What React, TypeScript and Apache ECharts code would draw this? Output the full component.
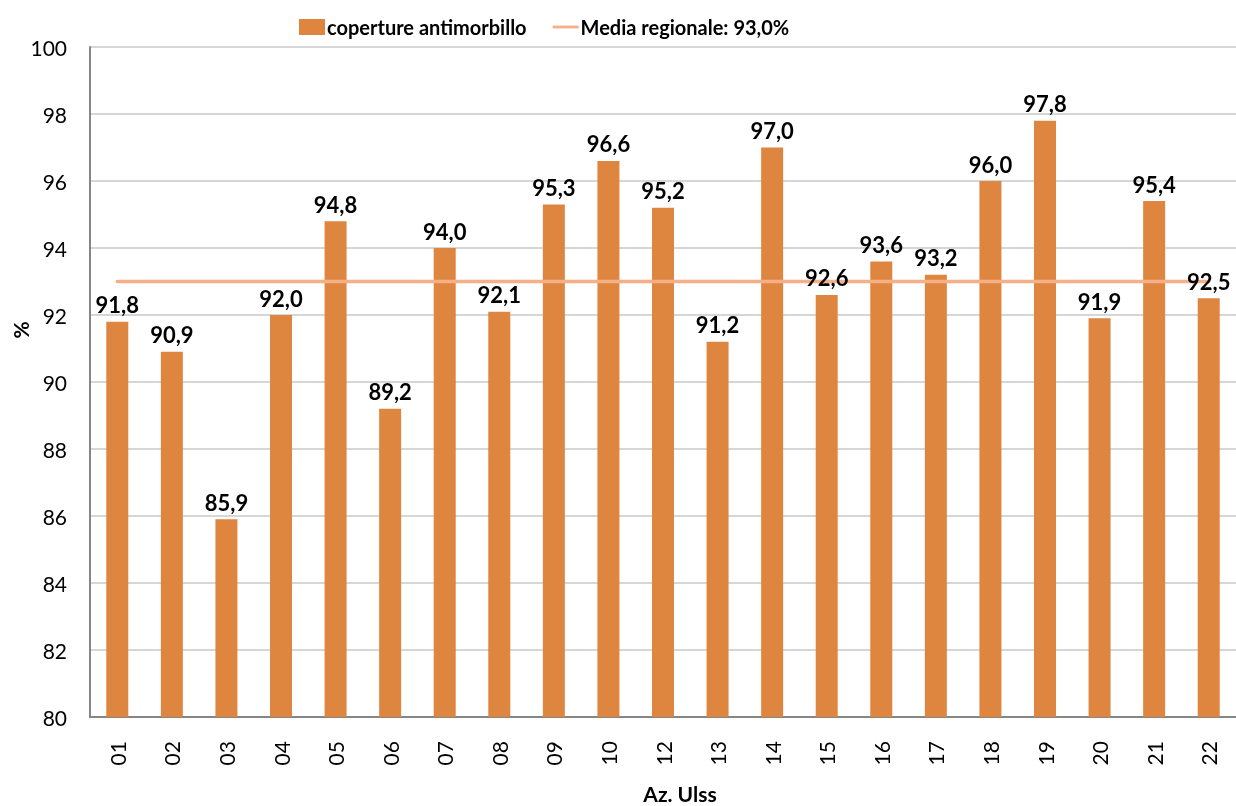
import React, { useEffect, useRef } from "react";
import * as echarts from "echarts";

const categories = ["01","02","03","04","05","06","07","08","09","10","12","13","14","15","16","17","18","19","20","21","22"];
const coverage = [91.8, 90.9, 85.9, 92.0, 94.8, 89.2, 94.0, 92.1, 95.3, 96.6, 95.2, 91.2, 97.0, 92.6, 93.6, 93.2, 96.0, 97.8, 91.9, 95.4, 92.5];
const regionalMean = 93.0;
const barName = "coperture antimorbillo";
const lineName = "Media regionale: 93,0%";
const yTicks = { min: 80, max: 100, interval: 2 };

const FONT = "Lato, 'Open Sans', sans-serif";

export default function App() {
  const ref = useRef<HTMLDivElement>(null);
  useEffect(() => {
    const chart = echarts.init(ref.current!, undefined, { renderer: "svg" });
    chart.setOption({
      animation: false,
      textStyle: { fontFamily: FONT },
      grid: { left: 90, right: 0, top: 47, bottom: 89 },
      legend: {
        top: 12,
        left: 294,
        itemGap: 26,
        itemWidth: 26,
        itemHeight: 16,
        textStyle: { fontFamily: FONT, fontWeight: "bold", fontSize: 20, color: "#000", padding: [0, 0, 0, -3] },
        data: [
          { name: barName, icon: "rect" },
          { name: lineName, icon: "path://M0,0 L100,0 L100,11 L0,11 Z" },
        ],
      },
      xAxis: {
        type: "category",
        data: categories,
        axisLine: { lineStyle: { color: "#868686", width: 2 } },
        axisTick: { show: false },
        axisLabel: { rotate: 90, fontSize: 21, color: "#000", margin: 24, fontFamily: FONT },
        splitLine: { show: false },
      },
      yAxis: {
        type: "value",
        min: yTicks.min,
        max: yTicks.max,
        interval: yTicks.interval,
        axisLine: { show: true, lineStyle: { color: "#868686", width: 2 } },
        axisTick: { show: false },
        axisLabel: { fontSize: 21, color: "#000", margin: 23, fontFamily: FONT },
        splitLine: { lineStyle: { color: "#c9c9c9", width: 1.5 } },
      },
      graphic: [
        {
          type: "text",
          x: 20,
          y: 330,
          rotation: Math.PI / 2,
          style: { text: "%", font: `bold 21px ${FONT}`, fill: "#000", textAlign: "center", textVerticalAlign: "middle" },
        },
        {
          type: "text",
          x: 680,
          y: 793,
          style: { text: "Az. Ulss", font: `bold 21px ${FONT}`, fill: "#000", textAlign: "center", textVerticalAlign: "middle" },
        },
      ],
      series: [
        {
          name: barName,
          type: "bar",
          data: coverage,
          barWidth: 22,
          itemStyle: { color: "#DE8640" },
          z: 2,
        },
        {
          name: lineName,
          type: "line",
          data: categories.map(() => regionalMean),
          symbol: "none",
          lineStyle: { color: "#F6B088", width: 3.5, cap: "round" },
          itemStyle: { color: "#F6B088" },
          z: 3,
        },
        {
          name: "labels",
          type: "scatter",
          data: coverage,
          symbolSize: 0,
          silent: true,
          itemStyle: { color: "rgba(0,0,0,0)", opacity: 1 },
          label: {
            show: true,
            position: "top",
            distance: 6,
            fontSize: 22,
            fontWeight: "bold",
            color: "#000",
            opacity: 1,
            fontFamily: FONT,
            formatter: (p: any) => p.value.toFixed(1).replace(".", ","),
          },
          z: 5,
        },
      ],
    });
    return () => chart.dispose();
  }, []);
  return <div ref={ref} style={{ position: "fixed", left: 0, top: 0, width: 1236, height: 806 }} />;
}
